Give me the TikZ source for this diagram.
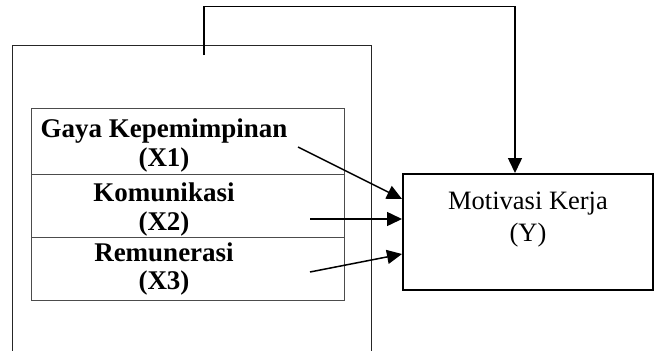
\documentclass[tikz,border=0pt]{standalone}
\usepackage{fontspec}
\setmainfont{Liberation Serif}
\usetikzlibrary{arrows.meta}
\begin{document}
\begin{tikzpicture}[x=1pt,y=-1pt,
  thinline/.style={draw=black!85,line width=1pt},
  varbox/.style={thinline,draw=black!70,minimum width=313pt,inner sep=0pt},
  vartext/.style={font=\fontsize{27}{32}\selectfont\bfseries,anchor=base,inner sep=0pt},
  ytext/.style={font=\fontsize{26.5}{32}\selectfont,anchor=base,inner sep=0pt},
  link/.style={line width=1.5pt,-{Triangle[length=15pt,width=14pt]}}]
\useasboundingbox (0,0) rectangle (657,351);
\fill[white] (0,0) rectangle (657,351);

% open frame around the independent variables
\draw[thinline] (12,351) -- (12,45.5) -- (371,45.5) -- (371,351);

% independent variable boxes
\node[varbox,minimum height=66pt] (x1) at (187.5,141) {};
\node[varbox,minimum height=63pt] (x2) at (187.5,205.5) {};
\node[varbox,minimum height=63pt] (x3) at (187.5,268.5) {};

\node[vartext] (t1a) at (164,137.5) {Gaya Kepemimpinan};
\node[vartext] (t1b) at (164,166.5) {(X1)};
\node[vartext] (t2a) at (164,201) {Komunikasi};
\node[vartext] (t2b) at (164,230) {(X2)};
\node[vartext] (t3a) at (164,261) {Remunerasi};
\node[vartext] (t3b) at (164,289) {(X3)};

% dependent variable
\node[draw,line width=2pt,minimum width=250pt,minimum height=116pt,inner sep=0pt] (y) at (528,232) {};
\node[ytext] (ya) at (528,209) {Motivasi Kerja};
\node[ytext] (yb) at (528,241) {(Y)};

% arrow end points
\coordinate (s1) at (298,147);
\coordinate (s2) at (310,219);
\coordinate (s3) at (310,272);
\coordinate (e1) at (y.west |- 0,199);
\coordinate (e2) at (y.west |- 0,219);
\coordinate (e3) at (y.west |- 0,254);
\coordinate (f0) at (204,55);
\coordinate (f1) at (204,6.5);
\coordinate (f2) at (515,6.5);
\coordinate (e4) at (f2 |- y.north);

\draw[link] (s1) -- (e1);
\draw[link] (s2) -- (e2);
\draw[link] (s3) -- (e3);

% simultaneous effect from the frame
\draw[link] (f0) -- (f1) -- (f2) -- (e4);
\end{tikzpicture}
\end{document}
